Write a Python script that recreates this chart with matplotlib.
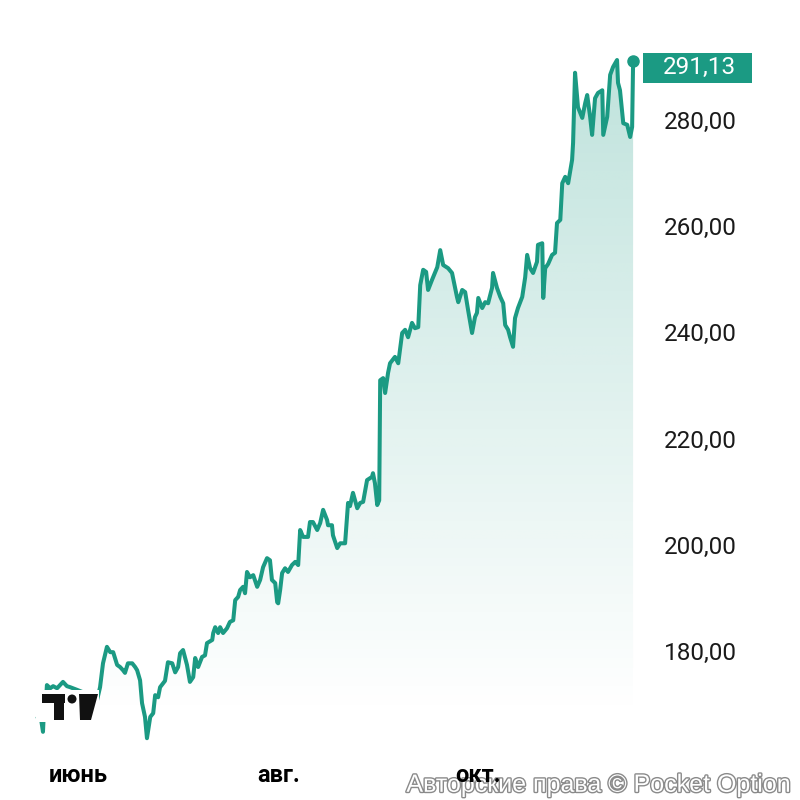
import numpy as np
import matplotlib
matplotlib.use("Agg")
import matplotlib.pyplot as plt
from matplotlib.patches import Polygon, Rectangle, Circle
from matplotlib.ticker import FixedLocator, FuncFormatter
import matplotlib.patheffects as pe

# days since 1 June, and price
days = [-12.2, -11.6, -10.7, -10.4, -9.8, -9.5, -8.5, -7.6, -6.4, -5.5, -4.6, -3.4, -2.4, -0.3,
        2.1, 4.3, 5.8, 6.7, 7.6, 8.8, 9.8, 10.7, 11.9, 12.8, 13.7, 14.3, 15.2, 16.5, 17.4, 18.0,
        18.9, 19.5, 20.4, 21.0, 22.0, 22.9, 23.5, 24.4, 25.0, 26.5, 27.4, 28.7, 29.6, 30.5, 31.1,
        32.0, 33.2, 34.1, 35.1, 35.7, 36.6, 37.8, 38.7, 39.3, 40.9, 41.2, 41.8, 42.7, 43.3, 44.2,
        45.4, 46.3, 47.3, 47.9, 48.8, 49.4, 50.3, 50.9, 51.5, 52.4, 53.4, 54.6, 55.5, 56.4, 57.6,
        58.5, 59.1, 60.1, 60.7, 61.0, 61.6, 62.2, 63.1, 64.0, 65.2, 66.2, 67.1, 67.7, 68.6, 70.1,
        70.7, 71.6, 72.9, 73.8, 74.7, 75.9, 76.2, 77.4, 77.7, 79.0, 79.9, 81.4, 82.3, 82.9, 83.8,
        85.1, 86.0, 86.9, 88.1, 89.6, 89.9, 90.5, 91.2, 91.8, 92.1, 93.0, 93.6, 94.5, 95.1, 96.6,
        97.6, 98.8, 99.7, 100.6, 101.8, 102.7, 103.7, 104.3, 105.2, 106.1, 106.7, 107.9, 109.5,
        110.4, 111.3, 112.8, 114.0, 115.5, 115.9, 117.1, 118.0, 118.9, 120.1, 121.0, 121.6, 122.0,
        123.2, 124.1, 125.0, 126.2, 126.5, 127.7, 128.7, 129.6, 130.2, 131.1, 131.7, 132.6, 133.2,
        134.1, 135.4, 136.3, 136.9, 137.8, 138.7, 139.9, 140.2, 141.5, 141.8, 142.4, 143.3, 144.5,
        145.4, 146.0, 147.0, 147.6, 148.5, 149.4, 150.6, 150.9, 151.5, 152.4, 153.7, 154.6, 155.2,
        156.1, 156.7, 157.6, 158.5, 159.8, 160.1, 161.3, 162.2, 163.1, 164.3, 164.6, 165.2, 166.2,
        167.4, 168.3, 168.9, 169.2]
prices = [167.6, 168.5, 164.8, 168.9, 170.2, 173.6, 173.0, 173.4, 173.0, 173.6, 174.2, 173.4, 173.2, 172.7,
          172.1, 171.7, 170.8, 173.2, 177.7, 180.8, 179.8, 179.8, 177.4, 177.0, 176.4, 175.9, 177.7, 177.7, 177.0, 176.4,
          174.5, 170.2, 167.6, 163.6, 167.6, 168.3, 171.7, 171.3, 173.2, 174.4, 177.9, 177.7, 176.0, 177.0, 179.6,
          180.2, 177.4, 174.2, 175.1, 178.7, 177.0, 178.9, 179.2, 181.5, 182.1, 183.4, 184.5, 183.4, 184.5, 183.4,
          184.3, 185.5, 185.8, 189.6, 190.2, 191.5, 192.1, 190.9, 194.9, 193.9, 194.3, 192.1, 193.4, 195.8, 197.5,
          197.1, 193.4, 192.8, 189.2, 189.0, 191.5, 194.7, 195.6, 194.9, 196.2, 196.8, 196.2, 202.8, 201.5, 201.5,
          204.3, 204.3, 202.8, 204.1, 206.6, 204.7, 203.7, 203.7, 201.8, 199.4, 200.3, 200.3, 207.9, 207.3, 209.8,
          206.9, 207.9, 208.1, 212.2, 212.8, 213.5, 211.6, 207.5, 208.4, 231.0, 231.4, 228.6, 232.4, 234.2, 235.4,
          234.2, 239.9, 240.5, 239.1, 241.8, 240.8, 241.0, 248.9, 251.8, 251.4, 248.0, 249.9, 252.3,
          255.5, 252.7, 252.1, 251.2, 246.7, 245.7, 248.0, 247.6, 244.2, 239.9, 242.9, 243.7, 246.5,
          244.6, 245.7, 245.5, 248.4, 251.2, 248.4, 246.7, 245.5, 241.4, 240.5, 239.1, 237.3, 242.7,
          244.6, 246.7, 250.4, 254.6, 252.1, 251.2, 253.3, 256.5, 256.8, 246.5, 252.1, 252.9, 254.6,
          255.0, 260.6, 261.2, 268.1, 269.3, 268.1, 272.5, 275.7, 288.9, 282.4, 280.4, 283.2, 284.7,
          280.6, 277.2, 284.1, 285.1, 285.6, 277.2, 280.6, 288.5, 290.0, 291.3, 287.0, 285.6, 279.4,
          279.1, 276.8, 278.7, 291.13]

yticks = [180, 200, 220, 240, 260, 280]
month_pos = [0, 61, 122]
month_labels = ["июнь", "авг.", "окт."]
last_label = "291,13"

teal = "#1b9a83"
x = np.array(days)
y = np.array(prices)

fig = plt.figure(figsize=(8, 8), dpi=100)
ax = fig.add_axes([0.0, 0.06, 0.80, 0.94])
ax.patch.set_visible(False)
xmin, xmax = -23.8, 171.3
ymin, ymax = 161.0, 302.6
ax.set_xlim(xmin, xmax)
ax.set_ylim(ymin, ymax)

# gradient fill under the line
grad = np.zeros((256, 2, 4))
rgb = matplotlib.colors.to_rgb(teal)
grad[:, :, 0] = rgb[0]
grad[:, :, 1] = rgb[1]
grad[:, :, 2] = rgb[2]
alpha = np.linspace(0.0, 0.28, 256)
grad[:, :, 3] = alpha[:, None]
im = ax.imshow(grad, extent=[xmin, xmax, 168, 292], origin="lower", aspect="auto", zorder=1)
verts = list(zip(x, y)) + [(x[-1], ymin), (x[0], ymin)]
clip = Polygon(verts, closed=True, facecolor="none", edgecolor="none")
ax.add_patch(clip)
im.set_clip_path(clip)

ax.plot(x, y, color=teal, lw=2.9, solid_joinstyle="round", zorder=3)
ax.plot(x[-1], y[-1], "o", color=teal, ms=8, zorder=4)

ax.yaxis.tick_right()
ax.yaxis.set_major_locator(FixedLocator(yticks))
ax.yaxis.set_major_formatter(FuncFormatter(lambda v, p: f"{v:.2f}".replace(".", ",")))
ax.set_xticks(month_pos)
ax.set_xticklabels(month_labels)
ax.tick_params(axis="y", length=0, pad=17, labelsize=17.5, labelcolor="#1a1a1a")
ax.tick_params(axis="x", length=0, pad=9, labelsize=17)
for t in ax.get_yticklabels():
    t.set_family("Roboto")
for t in ax.get_xticklabels():
    t.set_family("Roboto")
    t.set_fontweight("bold")
for s in ax.spines.values():
    s.set_visible(False)

# last price tag
fig.patches.append(Rectangle((643 / 800, 1 - 83 / 800), 109 / 800, 30 / 800,
                             transform=fig.transFigure, fc=teal, ec="none", zorder=-1))
ax.text(1.0 + 23 / 640, y[-1] - 1.2, last_label, transform=ax.get_yaxis_transform(),
        ha="left", va="center", fontsize=17.5, family="Roboto", color="white", zorder=6,
        clip_on=False)

# TradingView logo
fig.patches.append(Rectangle((36 / 800, 1 - 722 / 800), 63 / 800, 32 / 800,
                             transform=fig.transFigure, fc="white", ec="none", zorder=5))
fig.patches.append(Rectangle((42 / 800, 1 - 703 / 800), 23 / 800, 9 / 800,
                             transform=fig.transFigure, fc="#111111", ec="none", zorder=6))
fig.patches.append(Rectangle((54 / 800, 1 - 720 / 800), 10 / 800, 18 / 800,
                             transform=fig.transFigure, fc="#111111", ec="none", zorder=6))
fig.patches.append(Circle((72 / 800, 1 - 699 / 800), 4.5 / 800,
                          transform=fig.transFigure, fc="#111111", ec="none", zorder=6))
fig.patches.append(Polygon([(79 / 800, 1 - 694 / 800), (98 / 800, 1 - 694 / 800),
                            (91 / 800, 1 - 720 / 800), (80 / 800, 1 - 720 / 800)],
                           closed=True, transform=fig.transFigure, fc="#111111", ec="none", zorder=6))

# watermark (drawn under the axes so the month label stays visible)
fig.text(0.988, 0.004, "Авторские права © Pocket Option", ha="right", va="bottom",
         fontsize=18, family="Liberation Sans", color="white", zorder=-1,
         path_effects=[pe.withStroke(linewidth=2, foreground="#8a8a8a")])

fig.savefig("out.png", dpi=100)
